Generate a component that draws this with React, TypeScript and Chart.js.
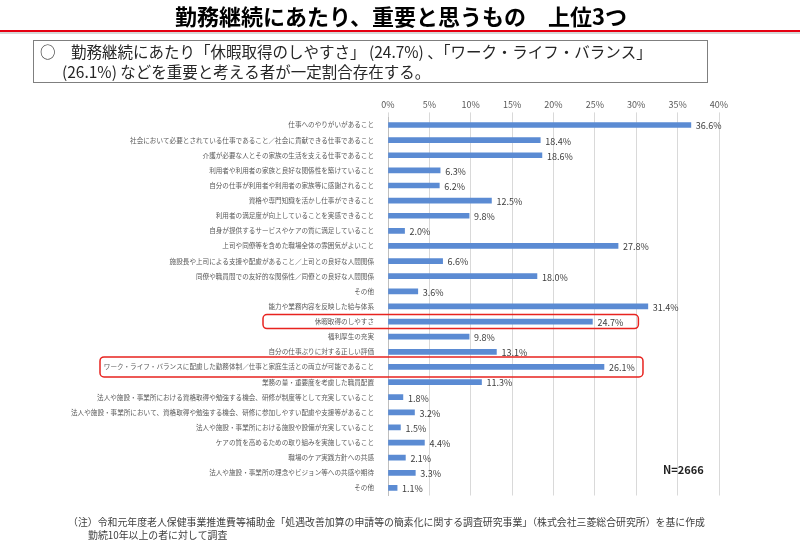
import React, { useEffect, useRef } from "react";
import { Chart, registerables } from "chart.js";

Chart.register(...registerables);

const categories: string[] = [
  "仕事へのやりがいがあること",
  "社会において必要とされている仕事であること／社会に貢献できる仕事であること",
  "介護が必要な人とその家族の生活を支える仕事であること",
  "利用者や利用者の家族と良好な関係性を築けていること",
  "自分の仕事が利用者や利用者の家族等に感謝されること",
  "資格や専門知識を活かし仕事ができること",
  "利用者の満足度が向上していることを実感できること",
  "自身が提供するサービスやケアの質に満足していること",
  "上司や同僚等を含めた職場全体の雰囲気がよいこと",
  "施設長や上司による支援や配慮があること／上司との良好な人間関係",
  "同僚や職員間での友好的な関係性／同僚との良好な人間関係",
  "その他",
  "能力や業務内容を反映した給与体系",
  "休暇取得のしやすさ",
  "福利厚生の充実",
  "自分の仕事ぶりに対する正しい評価",
  "ワーク・ライフ・バランスに配慮した勤務体制／仕事と家庭生活との両立が可能であること",
  "業務の量・重要度を考慮した職員配置",
  "法人や施設・事業所における資格取得や勉強する機会、研修が制度等として充実していること",
  "法人や施設・事業所において、資格取得や勉強する機会、研修に参加しやすい配慮や支援等があること",
  "法人や施設・事業所における施設や設備が充実していること",
  "ケアの質を高めるための取り組みを実施していること",
  "職場のケア実践方針への共感",
  "法人や施設・事業所の理念やビジョン等への共感や期待",
  "その他",
];

const values: number[] = [
  36.6, 18.4, 18.6, 6.3, 6.2, 12.5, 9.8, 2.0, 27.8, 6.6, 18.0, 3.6, 31.4,
  24.7, 9.8, 13.1, 26.1, 11.3, 1.8, 3.2, 1.5, 4.4, 2.1, 3.3, 1.1,
];

const highlighted: number[] = [13, 16];

const titleText = "勤務継続にあたり、重要と思うもの　上位3つ";
const summaryLines: string[] = [
  "○　勤務継続にあたり「休暇取得のしやすさ」 (24.7%) 、「ワーク・ライフ・バランス」",
  "(26.1%) などを重要と考える者が一定割合存在する。",
];
const noteLines: string[] = [
  "（注）令和元年度老人保健事業推進費等補助金「処遇改善加算の申請等の簡素化に関する調査研究事業」（株式会社三菱総合研究所）を基に作成",
  "勤続10年以上の者に対して調査",
];
const sampleText = "N=2666";

const FONT = '"Noto Sans CJK JP", "Noto Sans", sans-serif';

const decorPlugin = {
  id: "decor",
  afterDraw(chart: any) {
    const ctx: CanvasRenderingContext2D = chart.ctx;
    const xs = chart.scales.x;
    const ys = chart.scales.y;
    ctx.save();
    // title
    ctx.fillStyle = "#000";
    ctx.font = `bold 22px ${FONT}`;
    ctx.textAlign = "center";
    ctx.textBaseline = "middle";
    ctx.fillText(titleText, 401, 17);
    // red rule
    ctx.fillStyle = "#e60012";
    ctx.fillRect(0, 30, 800, 2);
    ctx.fillStyle = "#b0b0b0";
    ctx.fillRect(0, 32.5, 800, 1);
    // summary box
    ctx.strokeStyle = "#7f7f7f";
    ctx.lineWidth = 1;
    ctx.strokeRect(33.5, 40.5, 674, 42);
    ctx.fillStyle = "#262626";
    ctx.font = `15.5px ${FONT}`;
    ctx.textAlign = "left";
    ctx.fillText(summaryLines[0], 40, 52);
    ctx.fillText(summaryLines[1], 62, 72);
    // note
    ctx.fillStyle = "#404040";
    ctx.font = `9.9px ${FONT}`;
    ctx.fillText(noteLines[0], 68, 522);
    ctx.fillText(noteLines[1], 88, 535);
    // N
    ctx.fillStyle = "#222";
    ctx.font = `bold 11px ${FONT}`;
    ctx.fillText(sampleText, 663, 470);
    // value labels
    const meta = chart.getDatasetMeta(0);
    ctx.fillStyle = "#404040";
    ctx.font = `9px ${FONT}`;
    meta.data.forEach((bar: any, i: number) => {
      ctx.fillText(values[i].toFixed(1) + "%", bar.x + 5, bar.y + 1);
    });
    // highlight boxes
    ctx.strokeStyle = "#e8231f";
    ctx.lineWidth = 1.5;
    const boxes = [
      { left: 263, extra: 46, h: 14 },
      { left: 100, extra: 39, h: 20 },
    ];
    highlighted.forEach((idx, k) => {
      const cy = ys.getPixelForValue(idx);
      const b = boxes[k];
      const right = xs.getPixelForValue(values[idx]) + b.extra;
      ctx.beginPath();
      (ctx as any).roundRect(b.left, cy - b.h / 2, right - b.left, b.h, 4);
      ctx.stroke();
    });
    ctx.restore();
  },
};

export default function App() {
  const ref = useRef<HTMLCanvasElement | null>(null);
  useEffect(() => {
    if (!ref.current) return;
    const chart = new Chart(ref.current, {
      type: "bar",
      data: {
        labels: categories,
        datasets: [
          {
            data: values,
            backgroundColor: "#5b8bd3",
            borderWidth: 0,
            barThickness: 5,
          },
        ],
      },
      options: {
        indexAxis: "y",
        responsive: false,
        animation: false,
        devicePixelRatio: 1,
        layout: { padding: { left: 0, right: 81, top: 0, bottom: 50.5 } },
        plugins: {
          legend: { display: false },
          tooltip: { enabled: false },
          title: { display: false },
        },
        scales: {
          x: {
            position: "top",
            min: 0,
            max: 40,
            afterFit: (s: any) => {
              s.height = 117.4;
            },
            ticks: {
              stepSize: 5,
              padding: 2,
              color: "#595959",
              font: { size: 9, family: FONT },
              callback: (v: any) => v + "%",
            },
            grid: { color: "#d9d9d9", tickLength: 5, lineWidth: 1 },
            border: { display: false },
          },
          y: {
            afterFit: (s: any) => {
              s.width = 388;
            },
            ticks: {
              autoSkip: false,
              padding: 6,
              color: "#595959",
              font: { size: 6.6, family: FONT },
            },
            grid: { display: false },
            border: { display: true, color: "#bfbfbf" },
          },
        },
      },
      plugins: [decorPlugin],
    });
    return () => chart.destroy();
  }, []);
  return (
    <div style={{ position: "absolute", left: 0, top: 0, width: 800, height: 546, background: "#fff" }}>
      <canvas ref={ref} width={800} height={546} style={{ display: "block" }} />
    </div>
  );
}
